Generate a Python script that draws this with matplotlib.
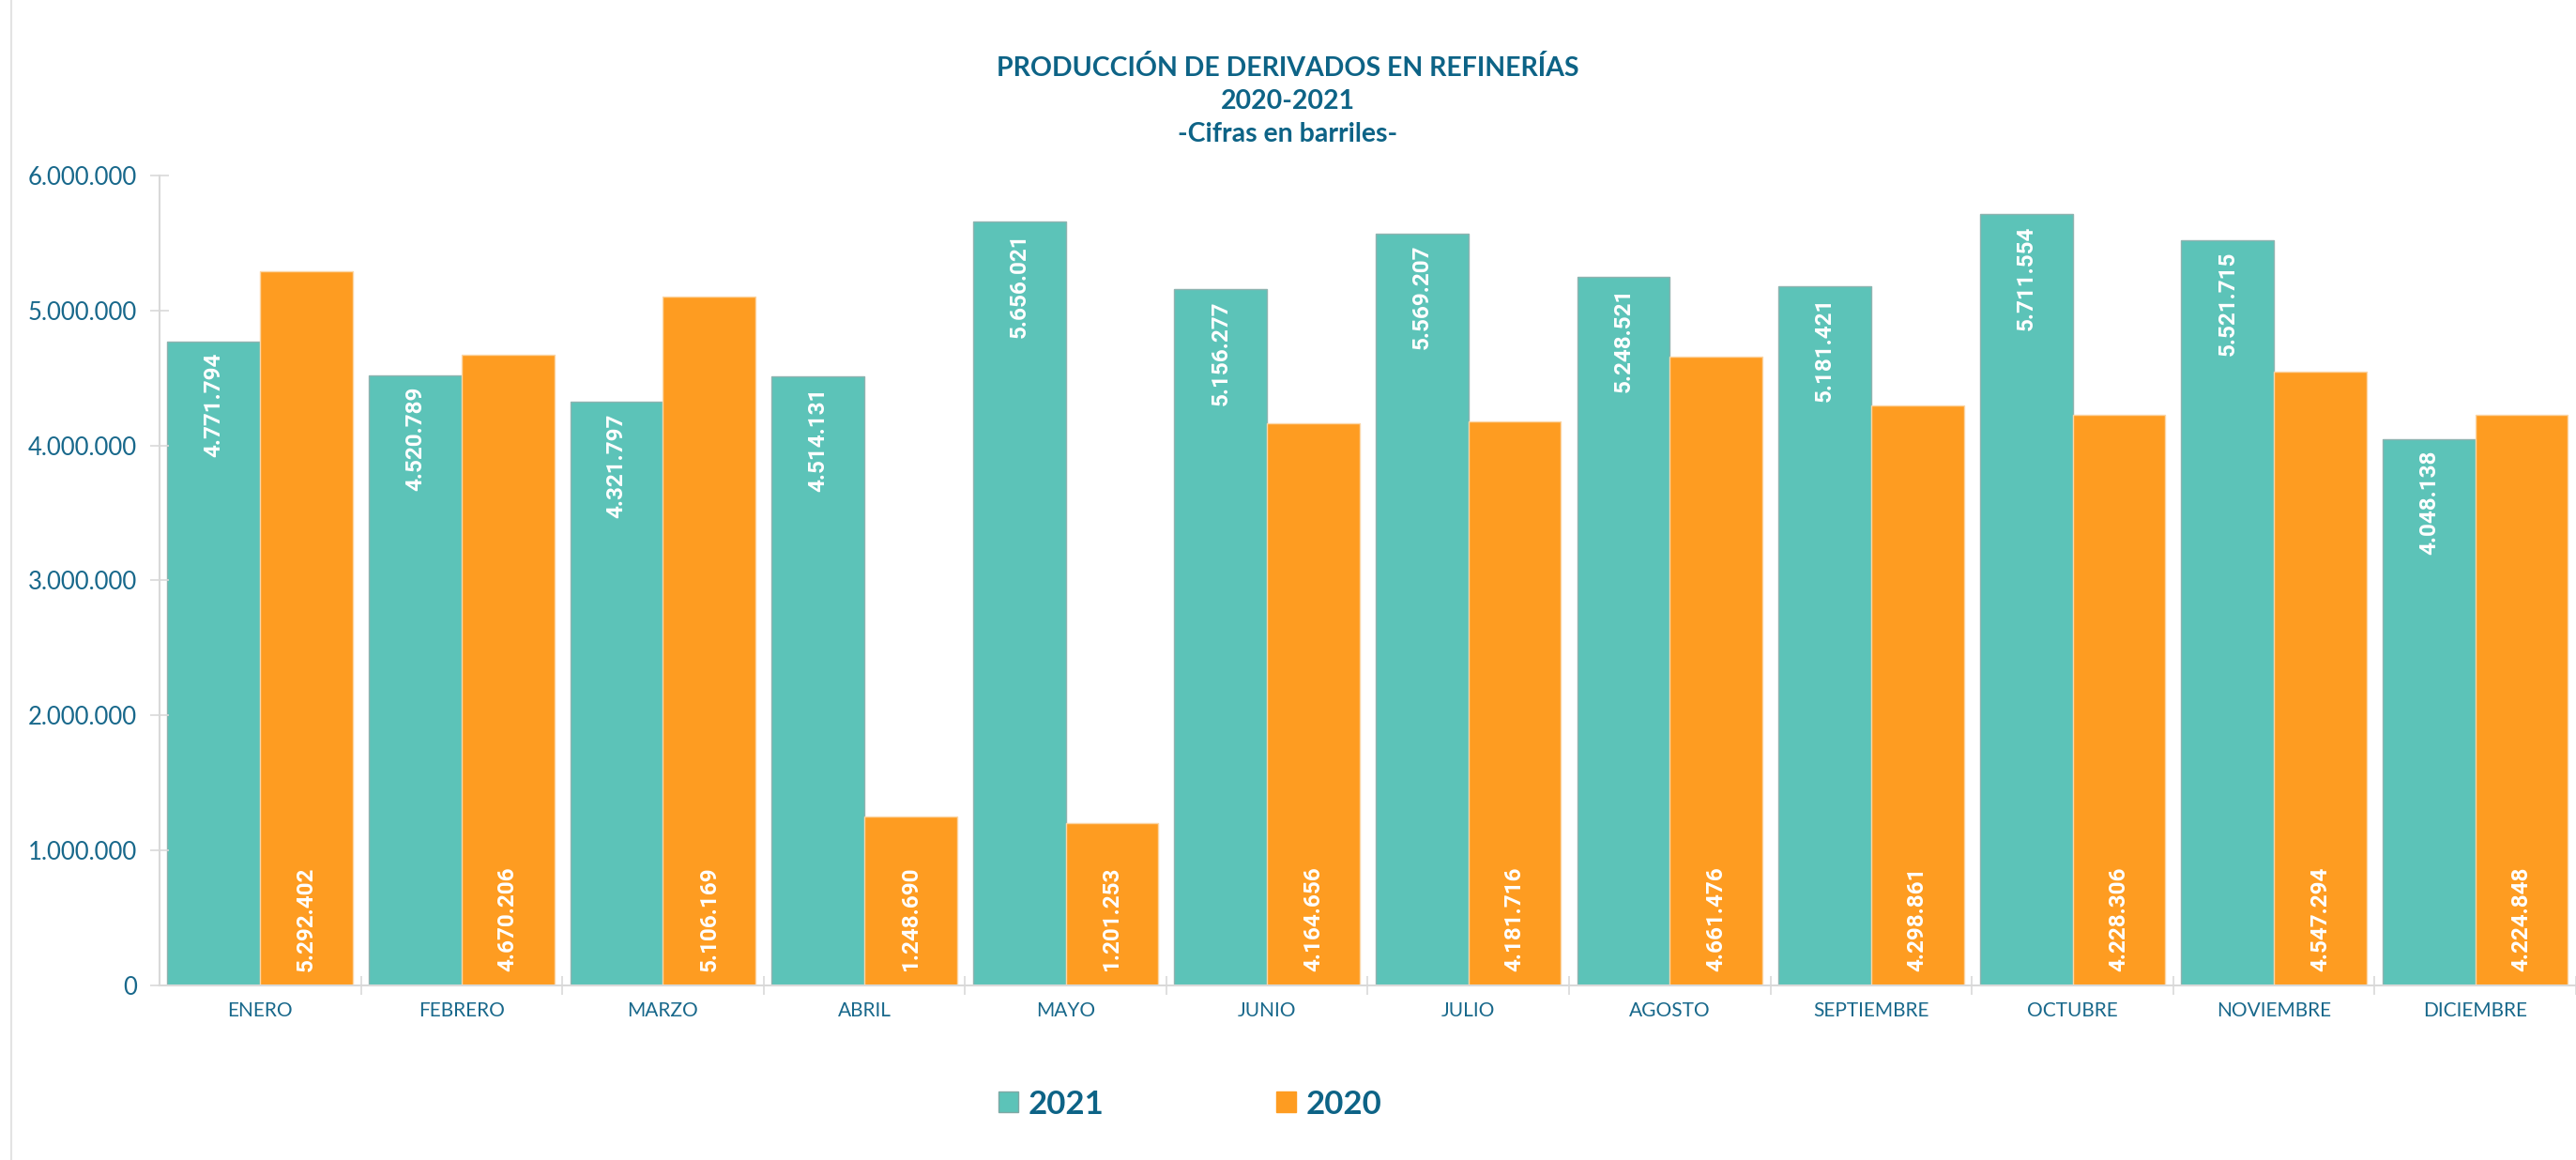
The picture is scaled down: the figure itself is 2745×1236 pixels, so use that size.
import matplotlib.pyplot as plt
import numpy as np
from matplotlib.patches import Patch
from matplotlib.lines import Line2D
from matplotlib.ticker import FuncFormatter, FixedLocator

# Datos: producción de derivados en refinerías (barriles)
meses = ['ENERO', 'FEBRERO', 'MARZO', 'ABRIL', 'MAYO', 'JUNIO', 'JULIO',
         'AGOSTO', 'SEPTIEMBRE', 'OCTUBRE', 'NOVIEMBRE', 'DICIEMBRE']
prod_2021 = [4771794, 4520789, 4321797, 4514131, 5656021, 5156277,
             5569207, 5248521, 5181421, 5711554, 5521715, 4048138]
prod_2020 = [5292402, 4670206, 5106169, 1248690, 1201253, 4164656,
             4181716, 4661476, 4298861, 4228306, 4547294, 4224848]
y_ticks = [0, 1000000, 2000000, 3000000, 4000000, 5000000, 6000000]

TEAL = '#5cc3b8'
NARANJA = '#fe9c21'
AZUL = '#0d6386'
AZUL_EJE = '#18688b'
GRIS = '#d9d9d9'

plt.rcParams['font.family'] = ['Lato', 'DejaVu Sans']


def miles(v, pos=None):
    return f'{int(round(v)):,}'.replace(',', '.')


fig = plt.figure(figsize=(27.45, 12.36), dpi=100)
ax = fig.add_axes([0.0619, 0.1505, 0.9381, 0.6982])

x = np.arange(len(meses))
ancho = 0.46
b21 = ax.bar(x - ancho / 2, prod_2021, ancho, color=TEAL, edgecolor='#8fb3b0', linewidth=1)
b20 = ax.bar(x + ancho / 2, prod_2020, ancho, color=NARANJA, edgecolor='#fbd6a6', linewidth=1)

ax.set_xlim(-0.5, 11.394)
ax.set_ylim(0, 6000000)

# etiquetas de valor: 2021 arriba dentro, 2020 en la base
for rect, v in zip(b21, prod_2021):
    ax.annotate(miles(v), (rect.get_x() + rect.get_width() / 2, v),
                xytext=(0, -12), textcoords='offset pixels',
                rotation=90, ha='center', va='top', color='white',
                fontsize=17.5, fontweight='bold', family=['Roboto', 'DejaVu Sans'])
for rect, v in zip(b20, prod_2020):
    ax.annotate(miles(v), (rect.get_x() + rect.get_width() / 2, 0),
                xytext=(0, 15), textcoords='offset pixels',
                rotation=90, ha='center', va='bottom', color='white',
                fontsize=17.5, fontweight='bold', family=['Roboto', 'DejaVu Sans'])

# ejes
for s in ['top', 'right']:
    ax.spines[s].set_visible(False)
ax.spines['left'].set_color(GRIS)
ax.spines['bottom'].set_color(GRIS)
ax.spines['left'].set_linewidth(1.5)
ax.spines['bottom'].set_linewidth(1.5)

ax.yaxis.set_major_locator(FixedLocator(y_ticks))
ax.yaxis.set_major_formatter(FuncFormatter(miles))
ax.tick_params(axis='y', direction='inout', length=14, width=1.2, color=GRIS,
               labelcolor=AZUL_EJE, labelsize=18.5, pad=10)

ax.set_xticks(x)
ax.set_xticklabels(meses)
ax.set_xticks(np.arange(len(meses)) + 0.5, minor=True)
ax.tick_params(axis='x', which='major', length=0, labelcolor=AZUL_EJE, labelsize=15, pad=12)
ax.tick_params(axis='x', which='minor', direction='inout', length=14, width=1.2, color=GRIS)

# título
fig.text(0.5, 0.941, 'PRODUCCIÓN DE DERIVADOS EN REFINERÍAS', ha='center', va='center',
         fontsize=20.5, fontweight='bold', color=AZUL)
fig.text(0.5, 0.913, '2020-2021', ha='center', va='center',
         fontsize=20.5, fontweight='bold', color=AZUL)
fig.text(0.5, 0.884, '-Cifras en barriles-', ha='center', va='center',
         fontsize=20.5, fontweight='bold', color=AZUL)

# borde izquierdo del área del gráfico
fig.add_artist(Line2D([12 / 2745, 12 / 2745], [0, 1], color='#e3e3e3', linewidth=1.5))

# leyenda
handles = [Patch(facecolor=TEAL, edgecolor='#7fa8a4', label='2021'),
           Patch(facecolor=NARANJA, edgecolor=NARANJA, label='2020')]
leg = fig.legend(handles=handles, loc='center', bbox_to_anchor=(0.462, 0.048), ncol=2,
                 frameon=False, handlelength=0.6, handleheight=0.6, handletextpad=0.3,
                 columnspacing=5.3, prop={'size': 25, 'weight': 'bold'})
for t in leg.get_texts():
    t.set_color(AZUL)

fig.savefig('out.png', dpi=100)
